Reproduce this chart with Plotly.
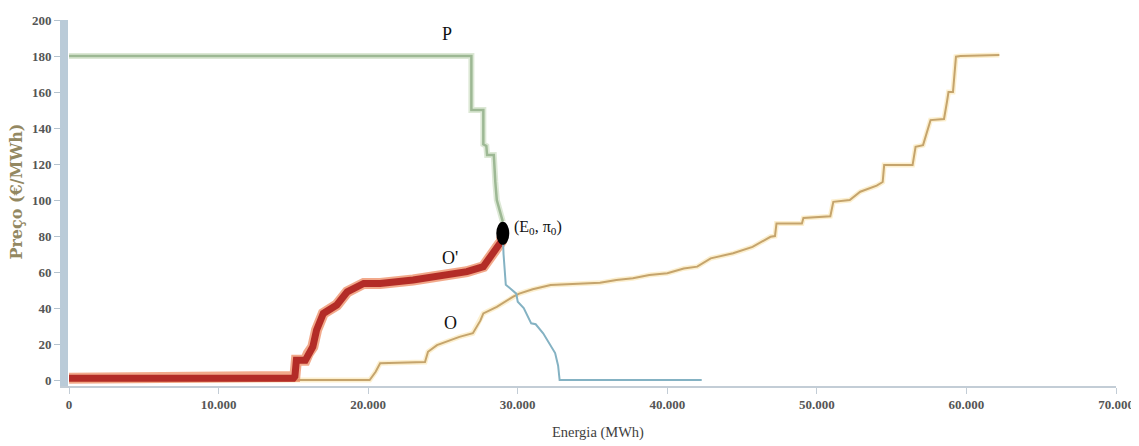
import plotly.graph_objects as go

# ---- data ----
# P : demand curve (green part, down to equilibrium)
p_green_x = [0, 26900, 26900, 27700, 27700, 27900, 27950, 28400, 28500, 28600, 29000]
p_green_y = [180, 180, 150, 150, 131, 130, 125, 125, 110, 100, 88]

# P : demand curve (blue part, after equilibrium)
p_blue_x = [29000, 29050, 29200, 29900, 30000, 30400, 30900, 31200, 31700, 32000, 32500, 32700, 32800, 42300]
p_blue_y = [81.5, 70, 53, 48, 43.5, 40, 31.5, 31, 26, 22, 15, 8, 0, 0]

# O' : modified supply curve (red, thick)
o_prime_x = [0, 15000, 15100, 15200, 15800, 16000, 16300, 16550, 17000, 17900, 18600, 19700,
             20800, 23000, 25200, 26600, 27700, 28400, 28900, 29000]
o_prime_y = [1, 1, 2, 11, 11, 14.8, 18.5, 27.8, 37, 41.7, 49, 53.7,
             53.7, 55.6, 58.3, 60.2, 63, 70.4, 77, 81.5]

# O : supply curve (orange)
o_x = [0, 20100, 20500, 20800, 23800, 24000, 24600, 25400, 26100, 27000, 27500, 27700, 28600,
       29700, 30100, 31000, 32200, 34400, 35500, 36600, 37700, 38800, 40000, 41100, 42000,
       42900, 44400, 45700, 46900, 47200, 47300, 49000, 49100, 50900, 51100, 52200, 52900,
       54000, 54400, 54500, 56400, 56600, 57100, 57600, 58500, 58700, 58800, 59100, 59300,
       59600, 62200]
o_y = [0, 0, 4.6, 9.3, 10, 15.7, 19.4, 22, 24, 26, 33, 37, 40.7,
       46.3, 48, 50.4, 52.8, 53.7, 54, 55.6, 56.5, 58.3, 59.3, 62, 63,
       67.6, 70.4, 74, 79.6, 80, 87, 87, 90, 91, 99, 100, 104.6,
       108, 110, 119.4, 119.4, 129.6, 130.5, 144.4, 145, 154.6, 160, 160, 179.6,
       180, 180.6]

# equilibrium point
E0 = 29000
PI0 = 81.5

x_ticks = [0, 10000, 20000, 30000, 40000, 50000, 60000, 70000]
y_ticks = [0, 20, 40, 60, 80, 100, 120, 140, 160, 180, 200]

# labels
labels = [
    ("P", 25300, 192.5),
    ("O'", 25500, 68),
    ("O", 25500, 31.5),
]

fig = go.Figure()

# orange supply (glow + line)
fig.add_trace(go.Scatter(x=o_x, y=o_y, mode="lines",
                         line=dict(color="rgba(250,225,165,0.55)", width=5), hoverinfo="skip"))
fig.add_trace(go.Scatter(x=o_x, y=o_y, mode="lines",
                         line=dict(color="#C5A46C", width=2)))

# red O' (glow + thick line)
fig.add_trace(go.Scatter(x=o_prime_x, y=o_prime_y, mode="lines",
                         line=dict(color="rgba(238,140,100,0.75)", width=11), hoverinfo="skip"))
fig.add_trace(go.Scatter(x=o_prime_x, y=o_prime_y, mode="lines",
                         line=dict(color="#B32C27", width=7)))

# demand green (glow + line)
fig.add_trace(go.Scatter(x=p_green_x, y=p_green_y, mode="lines",
                         line=dict(color="rgba(205,222,195,0.7)", width=6), hoverinfo="skip"))
fig.add_trace(go.Scatter(x=p_green_x, y=p_green_y, mode="lines",
                         line=dict(color="#9DB894", width=2.5)))

# demand blue
fig.add_trace(go.Scatter(x=p_blue_x, y=p_blue_y, mode="lines",
                         line=dict(color="#84B2C3", width=2)))

# equilibrium dot (oval)
fig.add_shape(type="circle", xref="x", yref="y", xsizemode="pixel", ysizemode="pixel",
              xanchor=E0, yanchor=PI0, x0=-6.5, x1=6.5, y0=-11.5, y1=11.5,
              fillcolor="black", line=dict(color="black", width=0))

for txt, lx, ly in labels:
    fig.add_annotation(x=lx, y=ly, text=txt, showarrow=False,
                       font=dict(family="Liberation Serif", size=18, color="#111"))

fig.add_annotation(x=E0, y=PI0 + 3.5, text="(E<sub>0</sub>, π<sub>0</sub>)", showarrow=False,
                   xanchor="left", xshift=9,
                   font=dict(family="Liberation Serif", size=16, color="#111"))

# axis titles
fig.add_annotation(xref="paper", yref="paper", x=0.506, y=-0.128, yanchor="middle", xanchor="center",
                   text="Energia (MWh)", showarrow=False,
                   font=dict(family="Liberation Serif", size=14.5, color="#3E3E3E"))
fig.add_annotation(xref="paper", yref="paper", x=-0.05, y=0.53, textangle=-90,
                   xanchor="center", yanchor="middle",
                   text="Preço (€/MWh)", showarrow=False,
                   font=dict(family="DejaVu Serif", size=16, color="#938862", weight="bold"))

# page body has an 8px default margin, so the figure is sized/offset to compensate
fig.update_layout(
    width=1131, height=438, autosize=False,
    margin=dict(l=60, r=23, t=12, b=60, autoexpand=False),
    paper_bgcolor="white", plot_bgcolor="white",
    showlegend=False,
    separators=",.",
    xaxis=dict(range=[-70, 70000], tickvals=x_ticks, tickformat=",d",
               automargin=False,
               showgrid=False, zeroline=False,
               showline=True, linecolor="#C3CDD6", linewidth=1.5,
               ticks="outside", ticklen=6, tickcolor="#C3CDD6",
               tickfont=dict(family="Liberation Serif", size=13, color="#555", weight="bold")),
    yaxis=dict(range=[-3.3, 200], tickvals=y_ticks,
               automargin=False,
               showgrid=False, zeroline=False,
               showline=True, linecolor="#BACBD8", linewidth=8,
               ticks="outside", ticklen=6, tickcolor="#B5C3CE",
               tickfont=dict(family="Liberation Serif", size=13, color="#555", weight="bold")),
)

fig.write_html("out.html")
